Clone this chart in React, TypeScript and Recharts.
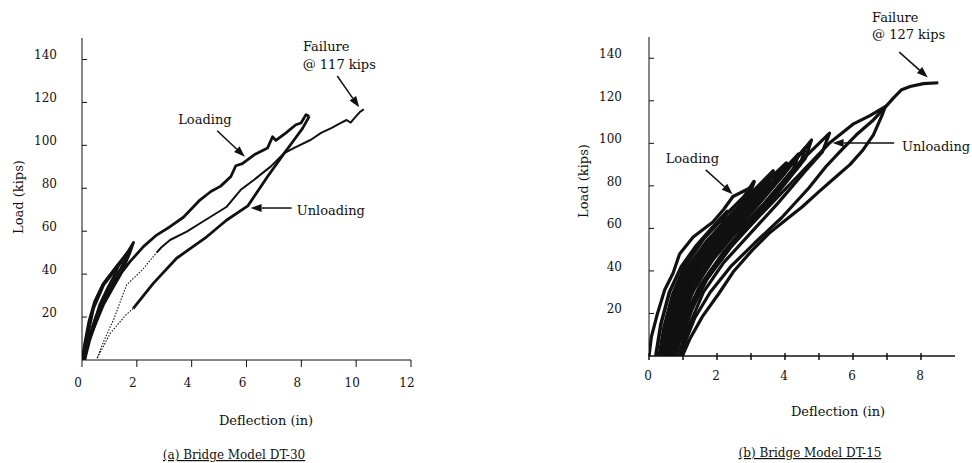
import React from "react";
import { LineChart, Line, XAxis, YAxis, ReferenceLine, ReferenceDot } from "recharts";

type Pt = [number, number];

// ---- (a) Bridge Model DT-30 ----
const dt30Early1: Pt[] = [[0, 0], [0.1, 8], [0.25, 18], [0.45, 27], [0.75, 35], [1.05, 40], [1.35, 45], [1.25, 41], [0.95, 34], [0.65, 26], [0.38, 15], [0.15, 5], [0.05, 0]];
const dt30Early2: Pt[] = [[0.05, 0], [0.15, 9], [0.3, 19], [0.5, 28], [0.8, 36], [1.1, 41], [1.4, 46], [1.65, 50], [1.55, 46], [1.3, 40], [0.95, 32], [0.6, 21], [0.28, 9], [0.1, 0]];
const dt30Early3: Pt[] = [[0.1, 0], [0.2, 11], [0.42, 24], [0.79, 35], [1.1, 40], [1.4, 45], [1.65, 50], [1.88, 54.8], [1.75, 50], [1.55, 44], [1.4, 39.7], [1.1, 33], [0.79, 26], [0.5, 17], [0.3, 11], [0.15, 4], [0.08, 0]];
const dt30Loading: Pt[] = [[0.08, 0], [0.25, 10], [0.5, 20], [0.8, 28], [1.1, 34], [1.4, 40], [1.75, 45.8], [2.24, 52.8], [2.72, 58.2], [3.21, 62.1], [3.7, 66.5], [4.3, 74.5], [4.7, 78.5], [5.06, 81], [5.43, 85.5], [5.61, 90.5], [5.85, 91.5], [6.28, 95.6], [6.77, 98.8], [6.95, 104], [7.07, 102.3], [7.44, 105.8], [7.8, 109.6], [7.99, 110.4], [8.17, 114.3], [8.29, 113.5]];
const dt30Unloading: Pt[] = [[8.29, 113.5], [8.05, 108], [7.74, 102.6], [7.38, 96.4], [6.77, 85.5], [6.05, 71.8], [5.28, 65.2], [4.55, 57.4], [3.45, 47.4], [2.6, 35.7], [1.87, 24]];
const dt30UnloadDotted: Pt[] = [[1.87, 24], [1.6, 21], [1.03, 12.4], [0.55, 0.8]];
const dt30ReloadDotted: Pt[] = [[0.55, 0.8], [0.8, 9], [1.15, 18.7], [1.45, 29], [1.63, 35], [2.2, 42], [2.72, 50]];
const dt30Reload: Pt[] = [[2.72, 50], [2.9, 52.5], [3.21, 55.9], [3.82, 59.8], [4.31, 63.7], [5.28, 71.4], [5.79, 79.3], [6.28, 84], [6.89, 90.2], [7.38, 96.4], [7.74, 98.8], [8.35, 102.6], [8.72, 105.8], [9.09, 108], [9.41, 110.2], [9.65, 111.8], [9.8, 110.6], [9.96, 113], [10.14, 115.6], [10.28, 116.8]];

// ---- (b) Bridge Model DT-15 ----
const dt15Envelope: Pt[] = [[0, 0], [0.07, 9], [0.25, 20], [0.46, 31], [0.71, 39], [0.9, 48], [1.3, 56], [1.88, 63], [2.2, 69], [2.47, 75], [2.97, 79], [3.09, 82]];
const dt15CycleA: Pt[] = [[0.2, 0], [0.35, 15], [0.6, 30], [0.95, 42], [1.4, 52], [1.9, 61], [2.3, 68], [2.15, 62], [1.7, 53], [1.2, 42], [0.85, 30], [0.6, 17], [0.42, 6], [0.35, 0]];
const dt15CycleB: Pt[] = [[0.3, 0], [0.45, 14], [0.7, 29], [1.05, 42], [1.6, 55], [2.3, 67], [2.8, 75], [3.09, 82], [2.95, 76], [2.5, 67], [1.9, 56], [1.35, 44], [0.95, 31], [0.7, 18], [0.5, 6], [0.42, 0]];
const dt15CycleC: Pt[] = [[0.35, 0], [0.5, 14], [0.78, 29], [1.12, 41], [1.7, 54], [2.4, 66], [2.9, 74], [3.3, 80], [3.15, 75], [2.7, 67], [2.1, 56], [1.5, 44], [1.05, 30], [0.78, 17], [0.56, 5], [0.48, 0]];
const dt15CycleD: Pt[] = [[0.45, 0], [0.62, 14], [0.9, 29], [1.28, 42], [1.9, 55], [2.6, 68], [3.3, 79], [3.9, 88], [3.75, 82], [3.2, 72], [2.5, 60], [1.75, 45], [1.2, 30], [0.86, 16], [0.63, 4], [0.55, 0]];
const dt15Cycle2: Pt[] = [[0.42, 0], [0.58, 14], [0.85, 29], [1.2, 42], [1.8, 55], [2.5, 68], [3.1, 78], [3.65, 87], [3.5, 81], [3.0, 72], [2.3, 59], [1.6, 45], [1.1, 30], [0.8, 16], [0.58, 4], [0.5, 0]];
const dt15Cycle3: Pt[] = [[0.5, 0], [0.66, 14], [0.95, 29], [1.35, 42], [2.0, 56], [2.7, 69], [3.4, 81], [4.04, 90.7], [3.9, 85], [3.4, 75], [2.7, 62], [1.9, 46], [1.3, 31], [0.92, 16], [0.68, 4], [0.6, 0]];
const dt15Cycle4: Pt[] = [[0.6, 0], [0.76, 14], [1.05, 29], [1.5, 42], [2.2, 56], [3.0, 70], [3.7, 83], [4.4, 95], [4.25, 88], [3.8, 79], [3.0, 64], [2.2, 49], [1.5, 33], [1.05, 18], [0.8, 6], [0.7, 0]];
const dt15CycleE: Pt[] = [[0.65, 0], [0.8, 14], [1.1, 29], [1.55, 42], [2.25, 56], [3.1, 70], [3.85, 84], [4.6, 98], [4.45, 90], [3.95, 81], [3.15, 65], [2.3, 50], [1.6, 34], [1.12, 19], [0.85, 6], [0.75, 0]];
const dt15Cycle5: Pt[] = [[0.7, 0], [0.85, 14], [1.15, 29], [1.6, 42], [2.3, 56], [3.2, 71], [4.0, 86], [4.78, 101.6], [4.6, 93], [4.1, 83], [3.3, 67], [2.4, 51], [1.7, 36], [1.2, 20], [0.9, 7], [0.8, 0]];
const dt15Cycle6: Pt[] = [[0.8, 0], [0.95, 14], [1.25, 29], [1.7, 42], [2.5, 57], [3.4, 72], [4.3, 89], [5.31, 104.8], [5.1, 96], [4.6, 87], [3.8, 72], [3.0, 58], [2.2, 44], [1.6, 30], [1.2, 15], [0.95, 4], [0.9, 0]];
const dt15Cycle7: Pt[] = [[0.9, 0], [1.05, 12], [1.35, 26], [1.8, 40], [2.6, 55], [3.5, 70], [4.4, 85], [5.3, 100], [6.0, 109], [6.5, 113], [6.95, 117.3], [6.85, 113], [6.6, 104], [6.3, 97], [5.91, 90], [5.5, 84.3], [5.0, 77.3], [4.51, 70.2], [4.02, 64], [3.53, 57.7], [3.04, 49.8], [2.5, 40], [2.06, 29.5], [1.57, 18.5], [1.2, 8], [0.98, 0]];
const dt15Final: Pt[] = [[0.98, 0], [1.1, 8], [1.35, 18], [1.8, 30], [2.4, 42], [3.1, 53], [3.9, 65], [4.7, 79], [5.2, 89], [5.61, 96], [6.1, 104], [6.6, 111], [6.95, 117], [7.2, 121.5], [7.43, 125.2], [7.68, 126.7], [8.07, 128.1], [8.51, 128.5]];

const loadTicks = [20, 40, 60, 80, 100, 120, 140];
const dt30XTicks = [0, 2, 4, 6, 8, 10, 12];
const dt15XTicks = [0, 1, 2, 3, 4, 5, 6, 7, 8];

const rows = (pts: Pt[]) => pts.map(([x, y]) => ({ x, y }));

// Liberation Serif isn't available in the renderer, DejaVu Serif is (wider, so sizes are reduced)
const FONT = "DejaVu Serif";
const INK = "#111";

const yTick = (gap: number) => (p: any) => (
  <g>
    <line x1={p.x} y1={p.y} x2={p.x + 5} y2={p.y} stroke={INK} />
    <text x={p.x - gap} y={p.y} textAnchor="end" fontSize={12} fontFamily={FONT} fill={INK}>
      {p.payload.value}
    </text>
  </g>
);

const dt30XTick = (p: any) => (
  <g>
    <line x1={p.x} y1={p.y} x2={p.x} y2={p.y + 7} stroke={INK} />
    <text x={p.x - 4} y={p.y + 27} textAnchor="middle" fontSize={12} fontFamily={FONT} fill={INK}>
      {p.payload.value}
    </text>
  </g>
);

const dt15XTick = (p: any) => (
  <g>
    <line x1={p.x} y1={p.y - 3} x2={p.x} y2={p.y + 4} stroke={INK} strokeWidth={1.5} />
    {p.payload.value % 2 === 0 && (
      <text x={p.x - 1} y={p.y + 24} textAnchor="middle" fontSize={12} fontFamily={FONT} fill={INK}>
        {p.payload.value}
      </text>
    )}
  </g>
);

const arrow = (p: any) => {
  const { x1, y1, x2, y2 } = p;
  const a = Math.atan2(y2 - y1, x2 - x1);
  const L = 11;
  const W = 4;
  const bx = x2 - L * Math.cos(a);
  const by = y2 - L * Math.sin(a);
  const nx = -Math.sin(a) * W;
  const ny = Math.cos(a) * W;
  return (
    <g>
      <line x1={x1} y1={y1} x2={bx} y2={by} stroke={INK} strokeWidth={1.5} />
      <polygon points={`${x2},${y2} ${bx + nx},${by + ny} ${bx - nx},${by - ny}`} fill={INK} />
    </g>
  );
};

const note = (text: string) => (p: any) => (
  <text x={p.cx} y={p.cy} fontSize={13} fontFamily={FONT} fill={INK}>
    {text}
  </text>
);

const curve = (pts: Pt[], key: string, width = 3.2, dash?: string) => (
  <Line
    key={key}
    data={rows(pts)}
    dataKey="y"
    type="linear"
    stroke={INK}
    strokeWidth={width}
    strokeDasharray={dash}
    strokeLinejoin="round"
    dot={false}
    activeDot={false}
    isAnimationActive={false}
  />
);

function DT30() {
  return (
    <LineChart width={486} height={463} margin={{ top: 38, right: 75, bottom: 73, left: 32 }}>
      <XAxis dataKey="x" type="number" domain={[0, 12]} ticks={dt30XTicks} tick={dt30XTick} tickLine={false} tickSize={0} tickMargin={0} height={30} axisLine={{ stroke: INK }} allowDataOverflow />
      <YAxis type="number" domain={[0, 150]} ticks={loadTicks} tick={yTick(25)} tickLine={false} tickSize={0} tickMargin={0} width={50} axisLine={{ stroke: INK }} allowDataOverflow />
      {curve(dt30Early1, "e1", 2.6)}
      {curve(dt30Early2, "e2", 2.6)}
      {curve(dt30Early3, "e3", 2.8)}
      {curve(dt30Loading, "load", 2.8)}
      {curve(dt30Unloading, "unload", 2.8)}
      {curve(dt30UnloadDotted, "ud", 1.1, "1.5 1.5")}
      {curve(dt30ReloadDotted, "rd", 1.1, "1.5 1.5")}
      {curve(dt30Reload, "reload", 2)}
      <ReferenceLine segment={[{ x: 9.31, y: 132.3 }, { x: 10.11, y: 117.7 }]} shape={arrow} ifOverflow="visible" />
      <ReferenceLine segment={[{ x: 4.93, y: 106.8 }, { x: 5.94, y: 94.7 }]} shape={arrow} ifOverflow="visible" />
      <ReferenceLine segment={[{ x: 7.65, y: 70.8 }, { x: 6.15, y: 70.8 }]} shape={arrow} ifOverflow="visible" />
      <ReferenceDot x={8.06} y={143.9} r={0} shape={note("Failure")} ifOverflow="visible" />
      <ReferenceDot x={8.05} y={135.4} r={0} shape={note("@ 117 kips")} ifOverflow="visible" />
      <ReferenceDot x={3.51} y={109.8} r={0} shape={note("Loading")} ifOverflow="visible" />
      <ReferenceDot x={7.83} y={67.5} r={0} shape={note("Unloading")} ifOverflow="visible" />
    </LineChart>
  );
}

function DT15() {
  return (
    <LineChart width={486} height={463} margin={{ top: 37, right: 17, bottom: 77, left: 113 }}>
      <XAxis dataKey="x" type="number" domain={[0, 9]} ticks={dt15XTicks} tick={dt15XTick} tickLine={false} tickSize={0} tickMargin={0} height={30} axisLine={{ stroke: INK, strokeWidth: 1.5 }} allowDataOverflow />
      <YAxis type="number" domain={[0, 150]} ticks={loadTicks} tick={yTick(27)} tickLine={false} tickSize={0} tickMargin={0} width={50} axisLine={{ stroke: INK }} allowDataOverflow />
      {curve(dt15Envelope, "env")}
      {curve(dt15CycleA, "ca", 3.6)}
      {curve(dt15CycleB, "cb", 3.6)}
      {curve(dt15CycleC, "cc", 3.6)}
      {curve(dt15CycleD, "cd", 3.6)}
      {curve(dt15Cycle2, "c2", 3.6)}
      {curve(dt15Cycle3, "c3", 3.6)}
      {curve(dt15Cycle4, "c4", 3.4)}
      {curve(dt15CycleE, "ce", 3.4)}
      {curve(dt15Cycle5, "c5")}
      {curve(dt15Cycle6, "c6")}
      {curve(dt15Cycle7, "c7")}
      {curve(dt15Final, "fin")}
      <ReferenceLine segment={[{ x: 7.36, y: 142.9 }, { x: 8.2, y: 131 }]} shape={arrow} ifOverflow="visible" />
      <ReferenceLine segment={[{ x: 1.67, y: 87.5 }, { x: 2.46, y: 76.1 }]} shape={arrow} ifOverflow="visible" />
      <ReferenceLine segment={[{ x: 7.21, y: 100.1 }, { x: 5.4, y: 100.1 }]} shape={arrow} ifOverflow="visible" />
      <ReferenceDot x={6.56} y={157.2} r={0} shape={note("Failure")} ifOverflow="visible" />
      <ReferenceDot x={6.56} y={148.9} r={0} shape={note("@ 127 kips")} ifOverflow="visible" />
      <ReferenceDot x={0.49} y={90.7} r={0} shape={note("Loading")} ifOverflow="visible" />
      <ReferenceDot x={7.44} y={96.6} r={0} shape={note("Unloading")} ifOverflow="visible" />
    </LineChart>
  );
}

export default function App() {
  const txt = { fill: INK, fontSize: 13, fontFamily: FONT } as const;
  return (
    <div style={{ position: "absolute", left: 0, top: 0, width: 972, height: 463, background: "#fff" }}>
      <div style={{ position: "absolute", left: 0, top: 0 }}>
        <DT30 />
      </div>
      <div style={{ position: "absolute", left: 486, top: 0 }}>
        <DT15 />
      </div>
      <svg width={972} height={463} style={{ position: "absolute", left: 0, top: 0, pointerEvents: "none" }}>
        <text {...txt} x={266} y={425} textAnchor="middle">Deflection (in)</text>
        <text {...txt} x={23} y={197} textAnchor="middle" transform="rotate(-90 23 197)">Load (kips)</text>
        <text {...txt} x={234} y={459} textAnchor="middle" fontSize={12} textDecoration="underline">(a) Bridge Model DT-30</text>
        <text {...txt} x={838} y={416} textAnchor="middle">Deflection (in)</text>
        <text {...txt} x={588} y={181} textAnchor="middle" transform="rotate(-90 588 181)">Load (kips)</text>
        <text {...txt} x={810} y={457} textAnchor="middle" fontSize={12} textDecoration="underline">(b) Bridge Model DT-15</text>
      </svg>
    </div>
  );
}
